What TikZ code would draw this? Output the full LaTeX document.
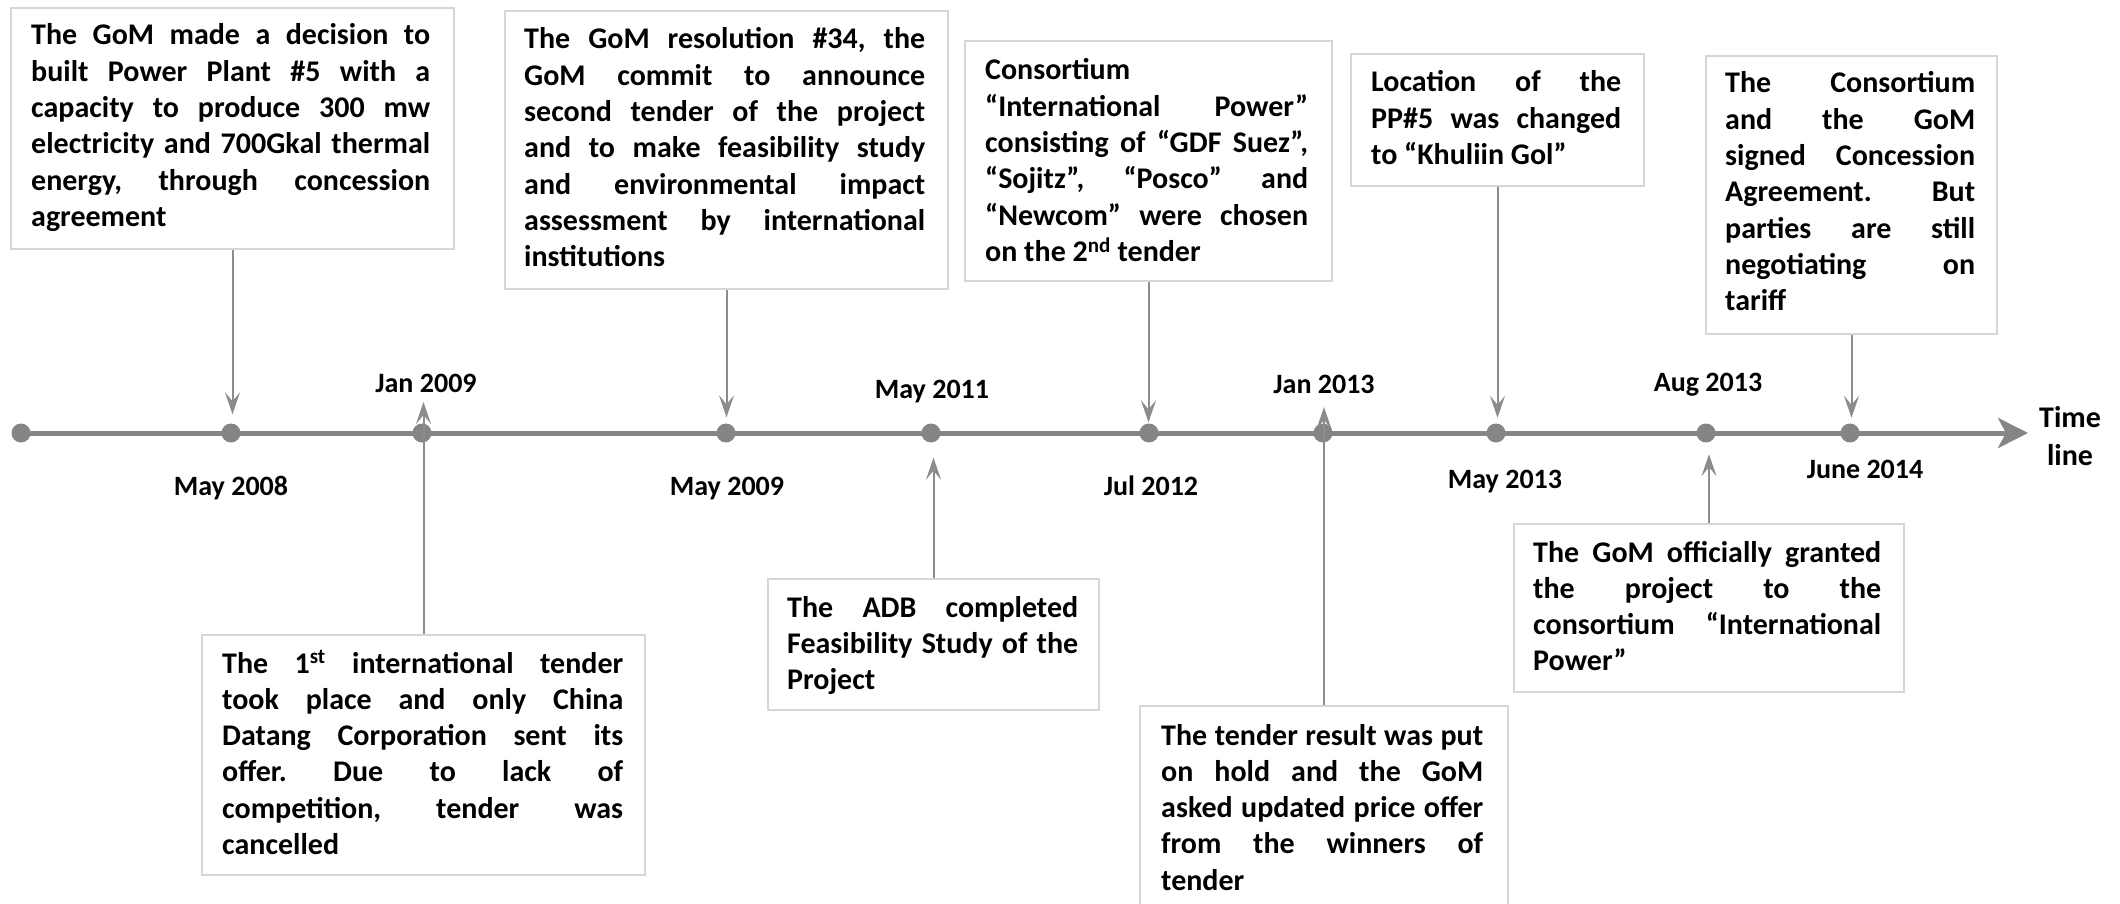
\documentclass[tikz,border=0pt]{standalone}
\usepackage{fontspec}
\setmainfont{Carlito}
\usetikzlibrary{arrows.meta}
\definecolor{tl}{HTML}{858585}
\definecolor{cn}{HTML}{8C8C8C}
\definecolor{bx}{HTML}{D6D6D6}
\newcommand\jl[1]{\hbox to\hsize{\spaceskip=\fontdimen2\font plus 1fil minus \fontdimen4\font\relax #1}}
\newcommand\jlast[1]{\hbox{#1}}
\newcommand\jtext[2]{\vtop{\hsize=#1pt\relax #2}}
\newcommand\twolines[2]{\vtop{\halign{\hfil##\hfil\cr#1\cr#2\cr}}}
\tikzset{
  boxst/.style={draw=bx, line width=2pt, fill=white, inner sep=0pt, anchor=north west},
  txt/.style={inner sep=0pt, anchor=base west, font=\bfseries\fontsize{30}{36.3}\selectfont\frenchspacing},
  datel/.style={inner sep=0pt, anchor=base, font=\bfseries\fontsize{28}{34}\selectfont},
  dotst/.style={circle, fill=tl, inner sep=0pt, minimum size=19pt},
  conn/.style={draw=cn, line width=2pt, -{Stealth[length=22pt,width=15pt,inset=9pt]}},
  tline/.style={draw=tl, line width=5pt, -{Stealth[length=30pt,width=30pt,inset=8pt]}}
}
\begin{document}
\begin{tikzpicture}[x=1pt,y=-1pt]
\path[use as bounding box, clip] (0,0) rectangle (2120,904);
\fill[white] (0,0) rectangle (2120,904);

% boxes
\node[boxst, minimum width=443pt, minimum height=241pt] (b1) at (10,7) {};
\node[boxst, minimum width=443pt, minimum height=278pt] (b2) at (504,10) {};
\node[boxst, minimum width=367pt, minimum height=240pt] (b3) at (964,40) {};
\node[boxst, minimum width=293pt, minimum height=132pt] (b5) at (1350,53) {};
\node[boxst, minimum width=291pt, minimum height=278pt] (b6) at (1705,55) {};
\node[boxst, minimum width=443pt, minimum height=240pt] (b7) at (201,634) {};
\node[boxst, minimum width=331pt, minimum height=131pt] (b8) at (767,578) {};
\node[boxst, minimum width=368pt, minimum height=240pt] (b9) at (1139,705) {};
\node[boxst, minimum width=390pt, minimum height=168pt] (b10) at (1513,523) {};

% texts
\node[txt] (t1) at (31,45) {\jtext{399}{%
\jl{The GoM made a decision to}
\jl{built Power Plant \#5 with a}
\jl{capacity to produce 300 mw}
\jl{electricity and 700Gkal thermal}
\jl{energy, through concession}
\jlast{agreement}}};
\node[txt] (t2) at (524,49) {\jtext{401}{%
\jl{The GoM resolution \#34, the}
\jl{GoM commit to announce}
\jl{second tender of the project}
\jl{and to make feasibility study}
\jl{and environmental impact}
\jl{assessment by international}
\jlast{institutions}}};
\node[txt] (t3) at (985,80) {\jtext{323}{%
\jlast{Consortium}
\jl{“International Power”}
\jl{consisting of “GDF Suez”,}
\jl{“Sojitz”, “Posco” and}
\jl{“Newcom” were chosen}
\jlast{on the 2\textsuperscript{nd} tender}}};
\node[txt] (t5) at (1371,92) {\jtext{250}{%
\jl{Location of the}
\jl{PP\#5 was changed}
\jlast{to “Khuliin Gol”}}};
\node[txt] (t6) at (1725,93) {\jtext{250}{%
\jl{The Consortium}
\jl{and the GoM}
\jl{signed Concession}
\jl{Agreement. But}
\jl{parties are still}
\jl{negotiating on}
\jlast{tariff}}};
\node[txt] (t7) at (222,673) {\jtext{401}{%
\jl{The 1\textsuperscript{st} international tender}
\jl{took place and only China}
\jl{Datang Corporation sent its}
\jl{offer. Due to lack of}
\jl{competition, tender was}
\jlast{cancelled}}};
\node[txt] (t8) at (787,617) {\jtext{291}{%
\jl{The ADB completed}
\jl{Feasibility Study of the}
\jlast{Project}}};
\node[txt] (t9) at (1161,745) {\jtext{322}{%
\jl{The tender result was put}
\jl{on hold and the GoM}
\jl{asked updated price offer}
\jl{from the winners of}
\jlast{tender}}};
\node[txt] (t10) at (1533,562) {\jtext{348}{%
\jl{The GoM officially granted}
\jl{the project to the}
\jl{consortium “International}
\jlast{Power”}}};

% timeline
\coordinate (tend) at (2028,433);
\coordinate (tstart) at (21,433);
\draw[tline] (tstart) -- (tend);
\node[dotst] (d0) at (21,433) {};
\node[dotst] (d1) at (231,433) {};
\node[dotst] (d2) at (422,433) {};
\node[dotst] (d3) at (726,433) {};
\node[dotst] (d4) at (931,433) {};
\node[dotst] (d5) at (1149,433) {};
\node[dotst] (d6) at (1323,433) {};
\node[dotst] (d7) at (1496,433) {};
\node[dotst] (d8) at (1706,433) {};
\node[dotst] (d9) at (1850,433) {};

% free ends above the axis
\coordinate (a2) at (422,402);
\coordinate (a6) at (1323,407);

% connectors
\draw[conn, shorten >=9pt] (b1.south) -- (b1.south |- d1.north);
\draw[conn] (b7.north) -- (b7.north |- a2);
\draw[conn, shorten >=6pt] (b2.south) -- (b2.south |- d3.north);
\draw[conn, shorten >=15pt] (b8.north) -- (b8.north |- d4.south);
\draw[conn, shorten >=1pt] (b3.south) -- (b3.south |- d5.north);
\draw[conn] (b9.north) -- (b9.north |- a6);
\draw[conn, shorten >=5.5pt] (b5.south) -- (b5.south |- d7.north);
\draw[conn, shorten >=11.5pt] (b10.north) -- (b10.north |- d8.south);
\draw[conn, shorten >=5.5pt] (b6.south) -- (b6.south |- d9.north);

% date labels
\node[datel] (l1) at (231,495) {May 2008};
\node[datel] (l2) at (426,392) {Jan 2009};
\node[datel] (l3) at (727,495) {May 2009};
\node[datel] (l4) at (932,398) {May 2011};
\node[datel] (l5) at (1151,495) {Jul 2012};
\node[datel] (l6) at (1324,393) {Jan 2013};
\node[datel] (l7) at (1505,488) {May 2013};
\node[datel] (l8) at (1708,391) {Aug 2013};
\node[datel] (l9) at (1865,478) {June 2014};
\node[inner sep=0pt, anchor=base, font=\bfseries\fontsize{30}{38}\selectfont] (tl) at (2070,427) {\twolines{Time}{line}};
\end{tikzpicture}
\end{document}
